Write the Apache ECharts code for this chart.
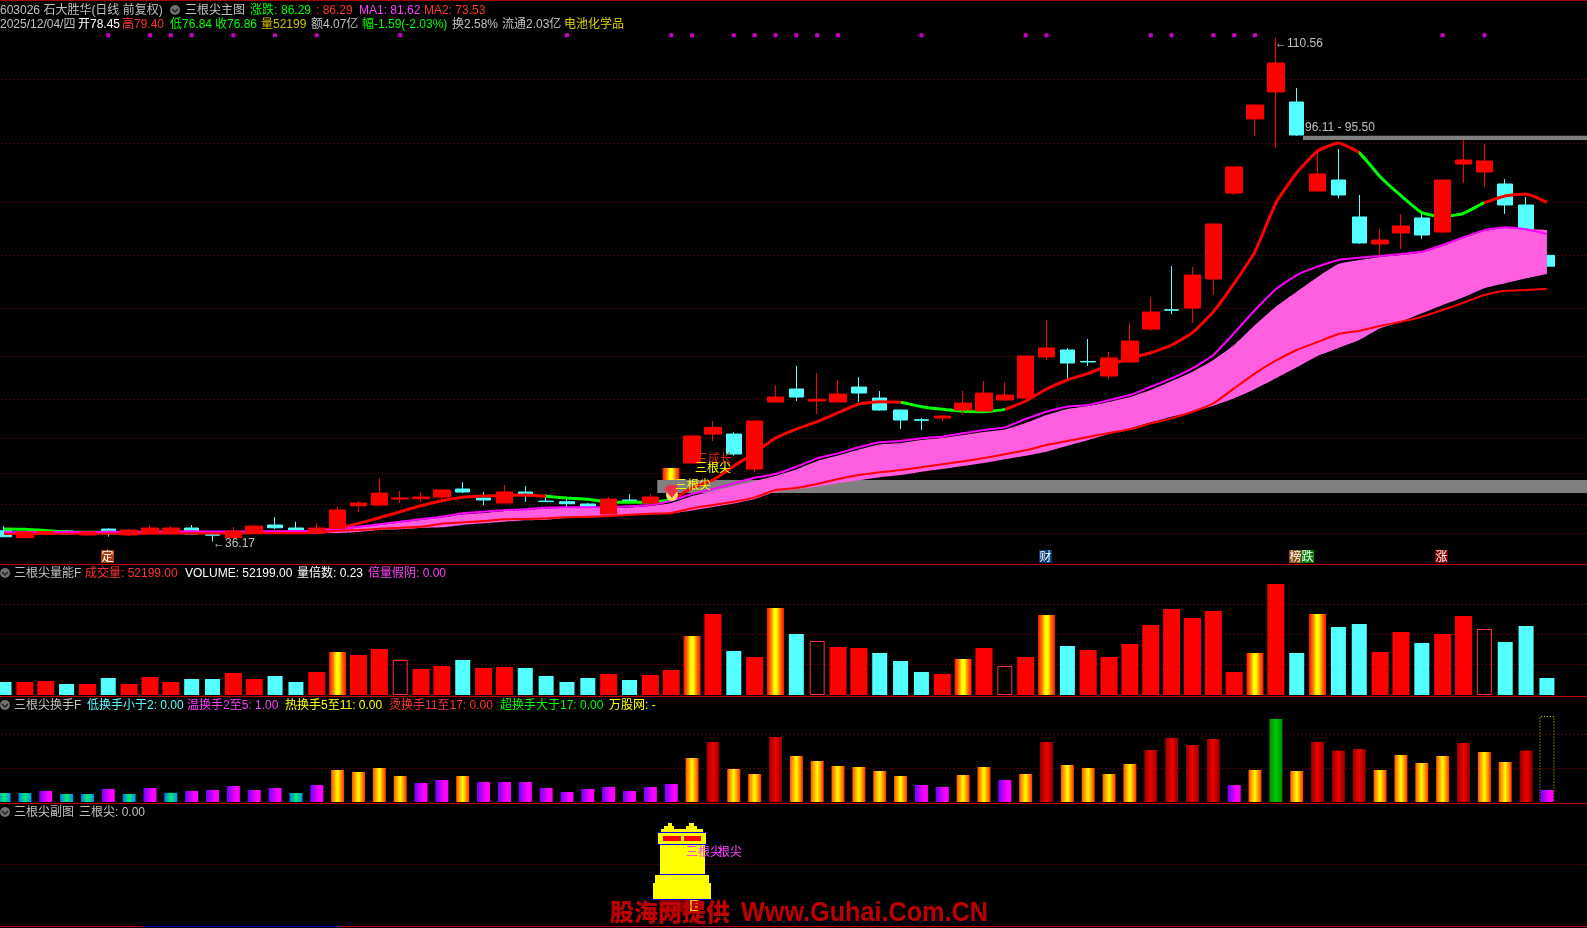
<!DOCTYPE html>
<html>
<head>
<meta charset="utf-8">
<title>三根尖</title>
<style>
  html, body { margin: 0; padding: 0; background: #000; }
  #chart { width: 1587px; height: 928px; }
</style>
<script src="https://cdn.jsdelivr.net/npm/echarts@6/dist/echarts.min.js"></script>
</head>
<body>
<div id="chart"></div>
<script>
// 75 trading days plus two empty slots on the right, as in the original window
const days = Array.from({ length: 77 }, (_, i) => String(i))

// [open, close, low, high]
const ohlc = [
  [37.78,36.89,36.85,38.47],[36.75,37.59,36.70,37.74],[37.22,37.66,37.1,37.8],[37.74,37.30,37.2,37.85],
  [37.15,37.59,37.05,37.7],[38.03,37.3,36.91,38.13],[37.15,37.88,37.0,38.0],[37.37,38.18,37.3,38.62],
  [37.59,38.18,37.5,38.47],[38.18,37.30,37.2,38.62],[37.2,37.12,36.17,37.4],[36.75,37.74,36.7,38.33],
  [37.44,38.47,37.35,38.6],[38.62,38.22,38.03,39.80],[38.18,37.88,37.8,39.11],[37.40,38.18,37.35,38.92],
  [38.14,40.84,38.1,41.33],[41.47,41.87,40.59,42.17],[41.57,43.35,41.43,45.56],[42.46,42.61,41.87,43.64],
  [42.51,42.76,42.02,43.5],[42.76,43.79,42.17,43.86],[43.94,43.5,43.35,44.97],[42.61,42.32,41.58,43.5],
  [41.87,43.5,41.8,44.53],[43.5,43.05,42.06,44.38],[42.15,42.08,42.02,43.2],[42.06,41.77,41.33,42.46],
  [41.73,41.33,41.3,41.87],[40.25,42.46,40.2,42.76],[42.32,42.12,41.87,43.2],[41.87,42.76,41.43,43.2],
  [45.27,47.04,45.2,47.1],[47.78,51.77,47.7,51.85],[52.06,53.05,51.03,53.98],[52.06,49.11,48.86,52.31],
  [46.89,53.98,46.45,54.05],[56.79,57.53,56.7,59.26],[58.71,57.53,56.94,62.11],[56.94,57.19,55.02,61.07],
  [56.79,57.97,56.7,60.04],[59.0,58.12,56.79,60.48],[57.38,55.61,55.5,58.42],[55.61,54.13,52.8,55.7],
  [54.17,54.09,52.65,54.43],[54.43,54.72,53.98,54.8],[55.61,56.64,54.92,58.42],[55.46,58.12,55.4,59.89],
  [57.09,57.82,57.0,59.74],[57.38,63.59,57.3,63.65],[63.44,64.77,62.99,68.9],[64.47,62.55,60.19,64.77],
  [62.78,62.7,62.11,66.1],[60.63,63.29,60.19,64.18],[62.7,65.8,62.6,68.46],[67.57,70.08,67.28,72.3],
  [70.42,70.34,69.79,76.88],[70.67,75.55,68.46,76.73],[74.96,83.08,72.6,83.15],[87.66,91.5,87.37,91.55],
  [98.59,100.66,96.08,100.7],[102.58,106.86,94.31,110.56],[101.1,96.23,96.11,103.17],[87.96,90.47,87.9,94.0],
  [89.58,87.37,86.92,94.16],[84.12,80.28,80.13,87.37],[80.13,80.72,78.36,82.34],[81.75,82.79,79.39,84.56],
  [83.97,81.46,80.87,84.71],[81.9,89.58,81.85,89.65],[91.95,92.54,89.14,95.49],[90.76,92.39,88.55,94.9],
  [88.99,85.89,84.56,89.73],[85.89,82.34,82.2,87.07],[78.45,76.86,76.84,79.40]
]
const goldCandleDays = [32]

const maFast = [
  38.03,37.99,37.81,37.59,37.54,37.54,37.51,37.51,37.59,37.59,37.51,37.51,37.51,37.59,37.59,37.74,
  38.14,38.87,39.70,40.59,41.47,42.21,42.71,42.91,43.01,43.05,42.86,42.61,42.42,42.02,41.98,42.02,
  42.36,44.09,45.27,47.34,49.26,51.47,52.80,53.88,55.21,56.50,56.84,56.75,56.10,55.71,55.42,55.36,
  55.71,56.94,58.71,60.04,61.03,62.21,63.25,64.07,65.21,67.03,70.13,74.32,79.0,86.19,90.66,93.87,
  95.05,93.61,90.07,87.26,84.75,84.16,84.66,86.23,87.22,87.51,86.29
]
const maFastFalling = [[0, 5], [26, 32], [43, 48], [65, 71]]

const ma1 = [
  37.55,37.58,37.6,37.6,37.6,37.62,37.62,37.65,37.65,37.65,37.65,37.65,37.68,37.7,37.72,37.81,
  38.03,38.37,38.73,39.11,39.51,39.85,40.35,40.59,40.84,40.94,41.18,41.24,41.24,41.28,41.38,41.58,
  42.21,43.2,43.94,44.78,45.61,46.16,47.23,48.47,49.21,50.10,50.84,51.03,51.43,51.67,52.17,52.66,
  53.05,54.28,55.36,56.10,56.35,57.09,57.82,59.05,60.29,61.77,63.73,66.98,70.38,73.44,75.55,76.78,
  77.77,78.11,78.36,78.65,78.99,79.98,81.12,82.18,82.6,82.3,81.62
]
const ma2 = [
  37.3,37.3,37.32,37.32,37.32,37.35,37.35,37.35,37.38,37.38,37.38,37.38,37.4,37.4,37.42,37.45,
  37.78,37.88,38.08,38.22,38.37,38.81,39.02,39.21,39.46,39.51,39.61,39.76,39.85,39.95,40.14,40.29,
  40.4,41.09,41.58,42.06,42.71,43.79,44.09,44.68,45.42,46.01,46.41,46.75,47.14,47.59,48.03,48.52,
  49.07,49.66,50.44,51.03,51.62,52.21,52.76,53.64,54.38,55.36,56.6,58.81,61.03,62.89,64.47,65.65,
  66.83,67.32,68.02,68.65,69.39,70.38,71.46,72.6,73.23,73.33,73.53
]
const bandTop = [
  37.55,37.56,37.58,37.58,37.58,37.6,37.6,37.62,37.62,37.62,37.62,37.62,37.65,37.66,37.68,37.7,
  37.88,38.25,38.62,38.99,39.36,39.73,40.17,40.39,40.69,40.84,41.06,41.13,41.13,41.13,41.21,41.43,
  41.87,42.91,43.65,44.38,45.12,45.86,46.82,48.08,48.89,49.78,50.51,50.73,51.18,51.47,51.92,52.36,
  52.73,53.69,54.87,55.76,56.2,56.79,57.53,58.56,59.89,61.27,63.0,65.21,68.16,70.87,73.08,75.25,
  77.17,77.76,78.21,78.50,78.87,79.83,81.02,82.05,82.49,82.34,82.2
]
const bandBottom = [
  37.4,37.4,37.4,37.4,37.4,37.42,37.42,37.42,37.42,37.42,37.42,37.42,37.42,37.42,37.42,37.42,
  37.44,37.59,37.88,37.99,38.18,38.28,38.62,38.87,39.11,39.32,39.41,39.66,39.73,39.88,40.03,40.17,
  40.32,40.76,41.28,41.8,42.46,43.54,43.9,44.28,44.78,45.23,45.67,46.01,46.5,46.9,47.34,47.78,
  48.33,48.86,49.45,50.32,51.18,52.06,52.91,53.79,54.62,55.36,56.24,57.34,58.71,60.29,61.92,63.59,
  64.77,65.95,67.68,68.65,69.89,71.12,72.26,73.59,74.32,75.06,75.70
]
// [from day, to day, top price, bottom price]
const gapBands = [[31.33, 76.5, 45.27, 43.35], [62.3, 76.5, 96.11, 95.50]]
const signalDays = [5,7,8,9,11,13,15,19,27,32,33,35,36,37,38,39,40,44,49,50,55,56,58,59,60,69,71]
const signalLevel = 110.96
const priceGrid = [104.43,95.0,86.3,78.5,70.6,63.55,57.2,51.45,46.3,41.7,37.45]

const volume = [
  39900,39900,43000,33800,33800,52200,33800,55300,39900,49100,49100,67500,49100,58300,39900,70600,
  132000,122800,141200,107400,79800,89000,107400,82900,86000,82900,58300,39900,52200,64500,46000,61400,
  76800,181100,248700,135100,116700,267100,187300,165800,147400,144300,128900,104400,70600,64500,110500,144300,
  89000,116700,245600,150400,138200,116700,156600,214900,264000,236400,257900,70600,128900,340800,128900,248700,
  208800,218000,132000,193400,159600,187300,242500,202600,162700,211800,52199
]
// r red, c cyan, g gold, h hollow
const volumeKind = 'crrcrcrrrccrrccrgrrhrrcrrccccrcrrgrcrgchrrcccrgrhrgcrrrrrrrrgrcgccrrcrrhccc'
const volumeGrid = [278450,186300,94200]

const turnover = [
  1.94,1.94,2.37,1.72,1.72,2.80,1.72,3.01,1.98,2.37,2.58,3.44,2.58,3.01,1.94,3.66,
  6.88,6.45,7.31,5.59,4.09,4.73,5.59,4.30,4.30,4.30,3.01,2.15,2.80,3.23,2.37,3.23,
  3.87,9.46,12.9,7.10,6.02,13.98,9.89,8.82,7.74,7.53,6.67,5.59,3.66,3.23,5.81,7.53,
  4.73,6.02,12.9,7.96,7.31,6.02,8.17,11.18,13.76,12.26,13.55,3.66,6.88,17.85,6.67,12.9,
  11.05,11.4,6.88,10.11,8.39,9.89,12.69,10.75,8.6,11.05,2.58
]
const turnoverLimit = [74, 18.49]
const turnoverGrid = [14.56,7.25]

const CJK = '"Liberation Sans","Noto Sans CJK SC",sans-serif'
const GRAY = '#c0c0c0'
const GREEN = '#00ff00'
const RED = '#ff3232'
const MAGENTA = '#ff40ff'
const YELLOW = '#ffff00'
const CYAN = '#54ffff'

// text, x, y, colour
const headerTexts = [
  ['603026 石大胜华(日线 前复权)', 0, 11, GRAY],
  ['三根尖主图', 185, 11, GRAY],
  ['涨跌:', 250, 11, GREEN],
  ['86.29', 281, 11, GREEN],
  [': 86.29', 316, 11, RED],
  ['MA1: 81.62', 359, 11, MAGENTA],
  ['MA2: 73.53', 424, 11, RED],
  ['2025/12/04/四', 0, 25, GRAY],
  ['开78.45', 78, 25, '#ffffff'],
  ['高79.40', 122, 25, RED],
  ['低76.84', 170, 25, GREEN],
  ['收76.86', 215, 25, GREEN],
  ['量52199', 261, 25, '#d0c000'],
  ['额4.07亿', 311, 25, GRAY],
  ['幅-1.59(-2.03%)', 362, 25, GREEN],
  ['换2.58%', 452, 25, GRAY],
  ['流通2.03亿', 502, 25, GRAY],
  ['电池化学品', 564, 25, '#e0d000'],
  ['三根尖量能F', 14, 574, GRAY],
  ['成交量: 52199.00', 85, 574, RED],
  ['VOLUME: 52199.00', 185, 574, '#ffffff'],
  ['量倍数: 0.23', 297, 574, '#ffffff'],
  ['倍量假阴: 0.00', 368, 574, MAGENTA],
  ['三根尖换手F', 14, 706, GRAY],
  ['低换手小于2: 0.00', 87, 706, CYAN],
  ['温换手2至5: 1.00', 187, 706, MAGENTA],
  ['热换手5至11: 0.00', 285, 706, YELLOW],
  ['烫换手11至17: 0.00', 389, 706, RED],
  ['超换手大于17: 0.00', 500, 706, GREEN],
  ['万股网: -', 609, 706, YELLOW],
  ['三根尖副图', 14, 813, GRAY],
  ['三根尖: 0.00', 79, 813, GRAY],
  ['←110.56', 1275, 44, GRAY],
  ['←36.17', 213, 544, GRAY],
  ['96.11 - 95.50', 1305, 128, GRAY],
  ['三成长', 696, 460, '#e02000'],
  ['三根尖', 695, 469, YELLOW],
  ['三根尖', 675, 486, YELLOW],
  ['三根尖', 686, 853, MAGENTA],
  ['根尖', 718, 853, MAGENTA]
]
// text, x, background
const eventChips = [
  ['定', 101, '#a83c0a'],
  ['财', 1039, '#003c78'],
  ['榜', 1289, '#8a4a10'],
  ['跌', 1301, '#008000'],
  ['涨', 1435, '#800000']
]
const separators = [[0, '#a00000'], [564, '#c00000'], [696, '#c00000'], [803, '#c00000'], [926, '#c00000']]
const iconSpots = [[175, 10], [5, 573], [5, 705], [5, 812]]

// x, y, w, h, colour of the yellow tower drawn in the last panel
const towerRects = [
  [664, 826, 10, 5, YELLOW], [668, 823, 4, 3, YELLOW], [686, 826, 11, 5, YELLOW], [689, 823, 5, 3, YELLOW],
  [661, 829, 42, 3, YELLOW], [658, 832, 48, 12, YELLOW],
  [663, 836, 18, 5, '#ff0000'], [684, 836, 17, 5, '#ff0000'],
  [660, 844, 45, 30, YELLOW], [655, 875, 54, 8, YELLOW], [653, 883, 58, 16, YELLOW],
  [658, 832, 48, 1, '#0000ff'], [658, 844, 48, 1, '#0000ff'], [660, 874, 45, 1, '#0000ff'], [653, 899, 58, 1, '#0000ff'],
  [660, 900, 40, 12, '#800000'], [690, 900, 8, 12, '#ffc000']
]

const redGold = new echarts.graphic.LinearGradient(0, 0, 1, 0, [
  { offset: 0, color: '#ff1000' }, { offset: 0.25, color: '#ff8000' },
  { offset: 0.42, color: '#ffff00' }, { offset: 0.58, color: '#ffff00' },
  { offset: 0.75, color: '#ff8000' }, { offset: 1, color: '#ff1000' }
])
const tierLow = new echarts.graphic.LinearGradient(0, 0, 1, 0, [
  { offset: 0, color: '#0070ff' }, { offset: 0.5, color: '#00f060' }, { offset: 1, color: '#0090ff' }
])
const tierWarm = new echarts.graphic.LinearGradient(0, 0, 1, 0, [
  { offset: 0, color: '#7000ff' }, { offset: 0.7, color: '#ff00ff' }, { offset: 1, color: '#ff00ff' }
])
const tierHot = new echarts.graphic.LinearGradient(0, 0, 1, 0, [
  { offset: 0, color: '#ff5000' }, { offset: 0.5, color: '#ffff00' }, { offset: 1, color: '#ff3000' }
])
const tierBoil = new echarts.graphic.LinearGradient(0, 0, 1, 0, [
  { offset: 0, color: '#900000' }, { offset: 0.5, color: '#f00000' }, { offset: 1, color: '#900000' }
])
const tierSuper = new echarts.graphic.LinearGradient(0, 0, 1, 0, [
  { offset: 0, color: '#009000' }, { offset: 0.5, color: '#00c800' }, { offset: 1, color: '#009000' }
])

function turnoverColor (v) {
  if (v < 2) return tierLow
  if (v < 5) return tierWarm
  if (v < 11) return tierHot
  if (v < 17) return tierBoil
  return tierSuper
}

const blank = ['-', '-', '-', '-']
const isGold = (i) => goldCandleDays.indexOf(i) >= 0
const upCandles = ohlc.map((d, i) => (d[1] >= d[0] && !isGold(i) ? d : blank))
const downCandles = ohlc.map((d) => (d[1] < d[0] ? d : blank))
const goldCandles = ohlc.map((d, i) => (isGold(i) ? d : blank))

function volumeItem (i, kinds) {
  const kind = volumeKind[i]
  if (kinds.indexOf(kind) < 0) return null
  const style = {
    r: { color: '#ff0000' },
    g: { color: redGold },
    c: { color: CYAN },
    h: { color: 'rgba(0,0,0,0)', borderColor: RED, borderWidth: 1 }
  }[kind]
  return { value: volume[i], itemStyle: style }
}

function gapRender (params, api) {
  const a = api.coord([api.value(0), api.value(2)])
  const b = api.coord([api.value(1), api.value(3)])
  return {
    type: 'rect',
    shape: { x: a[0], y: a[1], width: b[0] - a[0], height: b[1] - a[1] },
    style: { fill: '#808080' }
  }
}

const panel = (top, height) => ({ left: -6.4, width: 1605.45, top: top, height: height, outerBoundsMode: 'none' })
const catAxis = (gridIndex) => ({ type: 'category', data: days, gridIndex: gridIndex, show: false })
const gridAxis = (gridIndex, min, max, lines, color) => ({
  type: 'value',
  gridIndex: gridIndex,
  min: min,
  max: max,
  axisLine: { show: false },
  axisLabel: { show: false, customValues: lines },
  axisTick: { show: false, customValues: lines },
  splitLine: { show: true, lineStyle: { color: color, width: 1, type: [1, 3] } }
})

const graphics = []
separators.forEach(([y, color]) => {
  graphics.push({ type: 'rect', shape: { x: 0, y: y, width: 1587, height: 1 }, style: { fill: color }, z: 20 })
})
graphics.push({ type: 'rect', shape: { x: 143, y: 926, width: 197, height: 1 }, style: { fill: '#0000c0' }, z: 21 })
towerRects.forEach(([x, y, w, h, color]) => {
  graphics.push({ type: 'rect', shape: { x: x, y: y, width: w, height: h }, style: { fill: color }, z: 10 })
})
iconSpots.forEach(([x, y]) => {
  graphics.push({ type: 'circle', shape: { cx: x, cy: y, r: 5 }, style: { fill: '#707070' }, z: 30 })
  graphics.push({
    type: 'polyline',
    shape: { points: [[x - 3, y - 1], [x, y + 2], [x + 3, y - 1]] },
    style: { stroke: '#202020', lineWidth: 1.5, fill: null },
    z: 31
  })
})
// gem mark at the signal day
graphics.push({ type: 'circle', shape: { cx: 672, cy: 495, r: 6 }, style: { fill: '#ffe060' }, z: 30 })
graphics.push({
  type: 'polygon',
  shape: { points: [[664, 489], [668, 485], [676, 485], [679, 489], [672, 498]] },
  style: { fill: '#f03048' },
  z: 31
})
headerTexts.forEach(([text, x, y, color]) => {
  graphics.push({
    type: 'text',
    x: x,
    y: y,
    z: 40,
    style: { text: text, fill: color, font: '12px ' + CJK, verticalAlign: 'middle', align: 'left' }
  })
})
eventChips.forEach(([text, x, bg]) => {
  graphics.push({ type: 'rect', shape: { x: x, y: 550, width: 13, height: 13 }, style: { fill: bg }, z: 30 })
  graphics.push({
    type: 'text',
    x: x + 6.5,
    y: 556.5,
    z: 31,
    style: { text: text, fill: '#ffffff', font: '12px "Noto Sans CJK SC"', verticalAlign: 'middle', align: 'center' }
  })
})
graphics.push({
  type: 'text',
  x: 610,
  y: 912,
  z: 50,
  style: { text: '股海网提供', fill: '#c00000', font: '900 24px "Noto Sans CJK SC"', verticalAlign: 'middle' }
})
graphics.push({
  type: 'text',
  x: 741,
  y: 913,
  scaleX: 0.9,
  z: 50,
  style: { text: 'Www.Guhai.Com.CN', fill: '#c00000', font: 'bold 28px "Liberation Sans"', verticalAlign: 'middle' }
})

const myChart = echarts.init(document.getElementById('chart'))
const option = {
  backgroundColor: '#000000',
  animation: false,
  grid: [panel(7.9, 555.2), panel(564, 131), panel(696, 106), panel(803, 123)],
  xAxis: [
    catAxis(0),
    { type: 'value', gridIndex: 0, min: -0.5, max: 76.5, show: false },
    catAxis(1),
    catAxis(1),
    catAxis(2),
    catAxis(2),
    catAxis(3)
  ],
  yAxis: [
    gridAxis(0, 33, 115, priceGrid, '#8c0000'),
    gridAxis(1, 0, 402170, volumeGrid, '#a80000'),
    gridAxis(2, 0, 22.8, turnoverGrid, '#a80000'),
    gridAxis(3, 0, 1, [0.5], '#a80000')
  ],
  visualMap: {
    show: false,
    seriesIndex: 4,
    dimension: 0,
    pieces: maFastFalling.map((r) => ({ gte: r[0], lte: r[1], color: GREEN })),
    outOfRange: { color: '#ff0000' }
  },
  graphic: { elements: graphics },
  series: [
    {
      name: '缺口',
      type: 'custom',
      xAxisIndex: 1,
      yAxisIndex: 0,
      z: 1,
      renderItem: gapRender,
      encode: { x: [0, 1], y: [2, 3] },
      data: gapBands
    },
    {
      name: '阴线',
      type: 'candlestick',
      xAxisIndex: 0,
      yAxisIndex: 0,
      z: 2,
      barWidth: 15,
      itemStyle: { color: CYAN, color0: CYAN, borderColor: CYAN, borderColor0: CYAN, borderWidth: 1 },
      data: downCandles
    },
    {
      name: '带底',
      type: 'line',
      xAxisIndex: 0,
      yAxisIndex: 0,
      z: 3,
      stack: 'band',
      smooth: 0.15,
      symbol: 'none',
      lineStyle: { width: 0 },
      data: bandBottom
    },
    {
      name: '带',
      type: 'line',
      xAxisIndex: 0,
      yAxisIndex: 0,
      z: 3,
      stack: 'band',
      smooth: 0.15,
      symbol: 'none',
      lineStyle: { width: 0 },
      areaStyle: { color: '#ff5ee0', opacity: 1 },
      data: bandTop.map((v, i) => +(v - bandBottom[i]).toFixed(2))
    },
    {
      name: '短线',
      type: 'line',
      xAxisIndex: 0,
      yAxisIndex: 0,
      z: 4,
      smooth: 0.15,
      symbol: 'none',
      lineStyle: { width: 3 },
      data: maFast
    },
    {
      name: 'MA1',
      type: 'line',
      xAxisIndex: 0,
      yAxisIndex: 0,
      z: 4,
      smooth: 0.15,
      symbol: 'none',
      lineStyle: { width: 2, color: '#ff00ff' },
      data: ma1
    },
    {
      name: 'MA2',
      type: 'line',
      xAxisIndex: 0,
      yAxisIndex: 0,
      z: 4,
      smooth: 0.15,
      symbol: 'none',
      lineStyle: { width: 2, color: '#ff0000' },
      data: ma2
    },
    {
      name: '阳线',
      type: 'candlestick',
      xAxisIndex: 0,
      yAxisIndex: 0,
      z: 5,
      barWidth: 17,
      itemStyle: { color: '#ff0000', color0: '#ff0000', borderColor: '#ff0000', borderColor0: '#ff0000', borderWidth: 1 },
      data: upCandles
    },
    {
      name: '金K',
      type: 'candlestick',
      xAxisIndex: 0,
      yAxisIndex: 0,
      z: 5,
      barWidth: 17,
      itemStyle: { color: redGold, color0: redGold, borderWidth: 0 },
      data: goldCandles
    },
    {
      name: '信号',
      type: 'scatter',
      xAxisIndex: 0,
      yAxisIndex: 0,
      z: 6,
      symbol: 'rect',
      symbolSize: 4,
      itemStyle: { color: '#ff00ff' },
      data: signalDays.map((d) => [d, signalLevel])
    },
    {
      name: '成交量',
      type: 'bar',
      xAxisIndex: 2,
      yAxisIndex: 1,
      barWidth: 17,
      data: volume.map((v, i) => volumeItem(i, 'rg'))
    },
    {
      name: 'VOLUME',
      type: 'bar',
      xAxisIndex: 3,
      yAxisIndex: 1,
      barWidth: 15,
      data: volume.map((v, i) => volumeItem(i, 'ch'))
    },
    {
      name: '换手上限',
      type: 'bar',
      xAxisIndex: 5,
      yAxisIndex: 2,
      barWidth: 15,
      z: 2,
      itemStyle: { color: 'rgba(0,0,0,0)', borderColor: '#d8d800', borderWidth: 1, borderType: [1, 2] },
      data: [[turnoverLimit[0], turnoverLimit[1]]]
    },
    {
      name: '换手',
      type: 'bar',
      xAxisIndex: 4,
      yAxisIndex: 2,
      barWidth: 13,
      z: 3,
      data: turnover.map((v) => ({ value: v, itemStyle: { color: turnoverColor(v) } }))
    }
  ]
}

myChart.setOption(option)
window.addEventListener('resize', function () {
  myChart.resize()
})
</script>
</body>
</html>
